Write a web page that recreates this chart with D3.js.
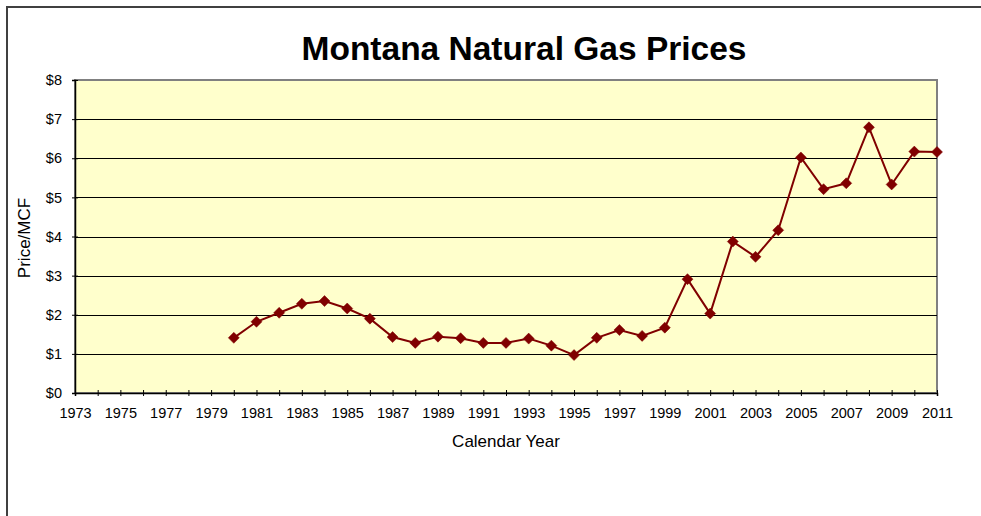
<!DOCTYPE html>
<html>
<head>
<meta charset="utf-8">
<script src="https://cdn.jsdelivr.net/npm/d3@7/dist/d3.min.js"></script>
<style>
  html, body { margin: 0; padding: 0; background: #ffffff; }
  svg { display: block; }
  text { font-family: "Liberation Sans", Arial, sans-serif; fill: #000; }
</style>
</head>
<body>
<svg id="chart" width="981" height="516"></svg>
<script>
const years = [1980,1981,1982,1983,1984,1985,1986,1987,1988,1989,1990,1991,1992,1993,1994,1995,1996,1997,1998,1999,2000,2001,2002,2003,2004,2005,2006,2007,2008,2009,2010,2011];
const prices = [1.41,1.82,2.05,2.28,2.35,2.16,1.90,1.43,1.28,1.44,1.40,1.28,1.28,1.39,1.21,0.97,1.41,1.61,1.46,1.67,2.91,2.03,3.87,3.48,4.16,6.02,5.21,5.36,6.79,5.33,6.17,6.16];
const xTickLabels = [1973,1975,1977,1979,1981,1983,1985,1987,1989,1991,1993,1995,1997,1999,2001,2003,2005,2007,2009,2011];
const yTickValues = [0,1,2,3,4,5,6,7,8];
const title = "Montana Natural Gas Prices";
const xTitle = "Calendar Year";
const yTitle = "Price/MCF";

const FONT = "'Liberation Sans', Arial, sans-serif";
const svg = d3.select("#chart");
const plot = {left: 75, right: 937, top: 80, bottom: 393};

// outer chart frame
svg.append("rect").attr("x", 7).attr("y", 7).attr("width", 1000).attr("height", 600)
  .attr("fill", "#fff").attr("stroke", "#404040").attr("stroke-width", 2);

const x = d3.scaleLinear().domain([1973, 2011]).range([plot.left, plot.right]);
const y = d3.scaleLinear().domain([0, 8]).range([plot.bottom, plot.top]);

// plot background
svg.append("rect").attr("x", plot.left).attr("y", plot.top)
  .attr("width", plot.right - plot.left).attr("height", plot.bottom - plot.top)
  .attr("fill", "#FFFFCC").attr("stroke", "#808080").attr("stroke-width", 2);

// gridlines
svg.append("g").selectAll("line").data(yTickValues.filter(v => v > 0 && v < 8)).join("line")
  .attr("x1", plot.left).attr("x2", plot.right)
  .attr("y1", d => Math.round(y(d)) + 0.5).attr("y2", d => Math.round(y(d)) + 0.5)
  .attr("stroke", "#000").attr("stroke-width", 1);

// y axis
const yAxis = d3.axisLeft(y).tickValues(yTickValues).tickFormat(d => "$" + d).tickSize(3).tickPadding(10);
const gy = svg.append("g").attr("transform", `translate(${plot.left},0)`).call(yAxis);
gy.select(".domain").attr("stroke", "#000").attr("stroke-width", 1.5);
gy.selectAll(".tick line").attr("x2", -3).attr("x1", 3).attr("stroke", "#000");
gy.selectAll(".tick text").attr("font-size", "14.5px").attr("font-family", FONT).attr("fill", "#000");

// x axis
const allYears = d3.range(1973, 2012);
const xAxis = d3.axisBottom(x).tickValues(allYears)
  .tickFormat(d => xTickLabels.includes(d) ? String(d) : "").tickSize(3).tickPadding(12);
const gx = svg.append("g").attr("transform", `translate(0,${plot.bottom})`).call(xAxis);
gx.select(".domain").attr("stroke", "#000").attr("stroke-width", 1.5);
gx.selectAll(".tick line").attr("y1", -3).attr("y2", 3).attr("stroke", "#000");
gx.selectAll(".tick text").attr("font-size", "14.5px").attr("font-family", FONT).attr("fill", "#000");

// line
const pts = years.map((yr, i) => ({yr, v: prices[i]}));
svg.append("path").datum(pts)
  .attr("d", d3.line().x(d => x(d.yr)).y(d => y(d.v)))
  .attr("fill", "none").attr("stroke", "#800000").attr("stroke-width", 2);

// markers (diamonds)
svg.append("g").selectAll("path").data(pts).join("path")
  .attr("transform", d => `translate(${x(d.yr)},${y(d.v)})`)
  .attr("d", "M0,-5.5L5.5,0L0,5.5L-5.5,0Z")
  .attr("fill", "#800000").attr("stroke", "#800000").attr("stroke-width", 0.5);

// titles
svg.append("text").attr("x", 524).attr("y", 60).attr("text-anchor", "middle")
  .attr("font-size", "33.5px").attr("font-weight", "bold").text(title);
svg.append("text").attr("x", 506).attr("y", 447).attr("text-anchor", "middle")
  .attr("font-size", "17px").text(xTitle);
svg.append("text").attr("transform", "translate(30,238) rotate(-90)").attr("text-anchor", "middle")
  .attr("font-size", "17px").text(yTitle);
</script>
</body>
</html>
